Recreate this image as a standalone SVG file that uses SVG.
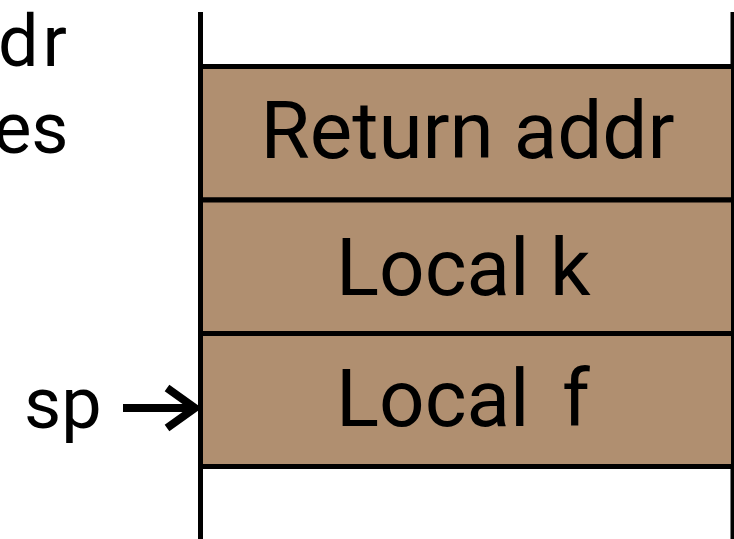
<svg xmlns="http://www.w3.org/2000/svg" width="734" height="539" viewBox="0 0 734 539">
  <style>
    .box { fill: #b08f70; stroke: #000; stroke-width: 5; }
    .rail { stroke: #000; stroke-width: 5; fill: none; }
    .lbl { font-family: Roboto, "Liberation Sans", sans-serif; font-size: 80px; fill: #000; }
    .side { font-family: Roboto, "Liberation Sans", sans-serif; font-size: 72px; fill: #000; }
  </style>
  <rect width="734" height="539" fill="#fff"/>
  <g id="left-text">
    <text class="side" x="67" y="66" text-anchor="end">d<tspan dx="4">r</tspan></text>
    <text class="side" x="68.5" y="153" text-anchor="end">es</text>
  </g>
  <g id="rails">
    <line class="rail" x1="200.5" y1="12" x2="200.5" y2="539"/>
    <line class="rail" x1="733" y1="12" x2="733" y2="539"/>
  </g>
  <g id="node-return">
    <rect class="box" x="200.5" y="66.5" width="533" height="133.5"/>
    <text class="lbl" x="467.5" y="158" text-anchor="middle">Return addr</text>
  </g>
  <g id="node-local-k">
    <rect class="box" x="200.5" y="200" width="533" height="133.5"/>
    <text class="lbl" x="336" y="295">Local <tspan x="550">k</tspan></text>
  </g>
  <g id="node-local-f">
    <rect class="box" x="200.5" y="333.5" width="533" height="133"/>
    <text class="lbl" x="336" y="426">Local <tspan x="562">f</tspan></text>
  </g>
  <g id="sp">
    <text class="side" x="24" y="428" font-size="76">sp</text>
  </g>
  <g id="connectors">
    <path d="M123 408 H194" stroke="#000" stroke-width="8" fill="none"/>
    <path d="M167 388 L195 408 L167 428" stroke="#000" stroke-width="8" fill="none" stroke-linejoin="miter"/>
  </g>
</svg>
